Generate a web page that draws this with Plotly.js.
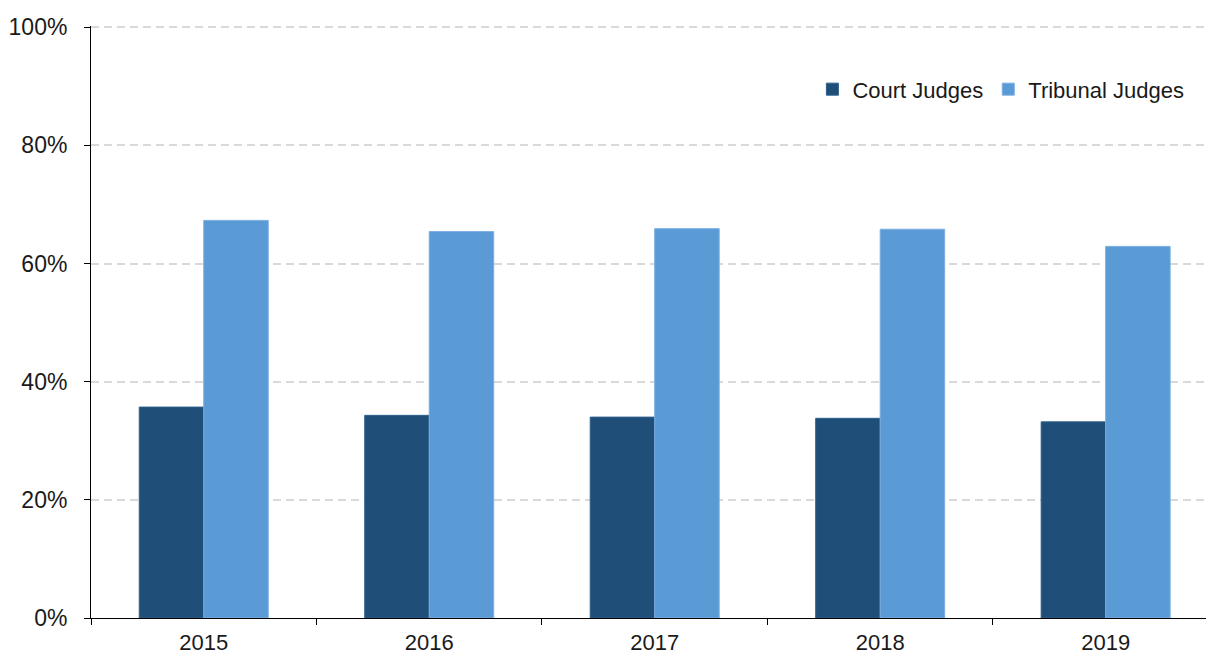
<!DOCTYPE html>
<html>
<head>
<meta charset="utf-8">
<script src="https://cdn.plot.ly/plotly-3.0.1.min.js"></script>
<style>
  html, body { margin: 0; padding: 0; background: #fff; }
  #chart { width: 1206px; height: 657px; }
</style>
</head>
<body>
<div id="chart"></div>
<script>
const years = ["2015", "2016", "2017", "2018", "2019"];
const courtJudges = [0.357, 0.343, 0.340, 0.338, 0.332];
const tribunalJudges = [0.673, 0.654, 0.659, 0.658, 0.629];
const seriesNames = ["Court Judges", "Tribunal Judges"];
const yTicks = [0, 0.2, 0.4, 0.6, 0.8, 1.0];

const font = "Liberation Sans, Arial, sans-serif";

const data = [
  {
    type: "bar",
    name: seriesNames[0],
    x: years,
    y: courtJudges,
    marker: { color: "#1F4E79", line: { color: "#2E5F8C", width: 1 } },
    hoverinfo: "skip"
  },
  {
    type: "bar",
    name: seriesNames[1],
    x: years,
    y: tribunalJudges,
    marker: { color: "#5B9BD5", line: { color: "#7AAEE0", width: 1 } },
    hoverinfo: "skip"
  }
];

const layout = {
  width: 1206,
  height: 657,
  margin: { l: 91, r: 0, t: 26, b: 39, pad: 0 },
  paper_bgcolor: "#ffffff",
  plot_bgcolor: "#ffffff",
  font: { family: font, size: 22, color: "#1a1a1a" },
  barmode: "group",
  bargap: 0.428,
  bargroupgap: 0,
  showlegend: true,
  legend: {
    orientation: "h",
    x: 0.647,
    xanchor: "left",
    y: 0.893,
    yanchor: "middle",
    font: { family: font, size: 22, color: "#1a1a1a" },
    bgcolor: "rgba(0,0,0,0)",
    itemwidth: 30,
    traceorder: "normal"
  },
  xaxis: {
    type: "category",
    range: [-0.5, 4.445],
    showline: true,
    linecolor: "#000000",
    linewidth: 1,
    ticks: "outside",
    tickson: "boundaries",
    ticklen: 6,
    tickcolor: "#000000",
    tickwidth: 1,
    ticklabelstandoff: 5,
    showgrid: false,
    zeroline: false,
    tickfont: { family: font, size: 22, color: "#1a1a1a" }
  },
  yaxis: {
    range: [0, 1.002],
    tickvals: yTicks,
    tickformat: ".0%",
    showline: true,
    linecolor: "#000000",
    linewidth: 1,
    ticks: "outside",
    ticklen: 6,
    tickcolor: "#000000",
    tickwidth: 1,
    ticklabelstandoff: 12,
    showgrid: true,
    gridcolor: "#d9d9d9",
    gridwidth: 2,
    griddash: "8px,5px",
    zeroline: false,
    tickfont: { family: font, size: 23, color: "#1a1a1a" }
  }
};

Plotly.newPlot("chart", data, layout, { displayModeBar: false, staticPlot: true });
</script>
</body>
</html>
